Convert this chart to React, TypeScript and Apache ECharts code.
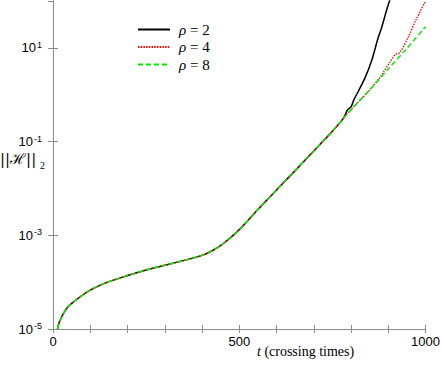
import React, { useEffect, useRef } from "react";
import * as echarts from "echarts";

// shared early evolution (all three runs coincide)
const T_COMMON = [12, 16, 20, 26, 35, 45, 55, 75, 100, 140, 200, 260, 300, 350, 400, 430, 460, 500, 550, 600, 650, 700, 750, 780];
const H_COMMON = [1.0e-5, 1.32e-5, 1.58e-5, 2.0e-5, 2.63e-5, 3.24e-5, 3.8e-5, 5.0e-5, 6.76e-5, 9.55e-5, 1.38e-4, 1.91e-4, 2.29e-4, 2.88e-4, 3.72e-4, 4.79e-4, 6.92e-4, 1.32e-3, 3.55e-3, 9.3e-3, 2.4e-2, 6.3e-2, 0.166, 0.316];

// late-time branches
const T_RHO2 = [790, 800, 808, 820, 838, 855, 873, 882, 895, 905];
const H_RHO2 = [0.468, 0.55, 0.794, 1.2, 2.34, 5.25, 16.6, 26.9, 61.7, 112];
const T_RHO4 = [800, 850, 880, 904, 918, 931, 953, 975, 1000];
const H_RHO4 = [0.479, 1.26, 2.51, 4.9, 7.08, 7.94, 16.6, 40.7, 100];
const T_RHO8 = [800, 850, 900, 950, 1000];
const H_RHO8 = [0.479, 1.26, 3.55, 9.77, 28.2];

const SERIES_NAMES = ["ρ = 2", "ρ = 4", "ρ = 8"];
const X_TICKS_LABELLED = [0, 500, 1000];
const Y_DECADE_OFFSET = 5; // axis value = log10(H) + 5

const toPts = (ts: number[], hs: number[]) => ts.map((t, i) => [t, Math.log10(hs[i]) + Y_DECADE_OFFSET]);

const SANS = '"Liberation Sans", Arial, sans-serif';
const SERIF = '"Liberation Serif", "Times New Roman", serif';
const FRAME = "#8c8c8c";

export default function App() {
  const ref = useRef<HTMLDivElement>(null);
  useEffect(() => {
    if (!ref.current) return;
    const chart = echarts.init(ref.current, null, { renderer: "svg" });
    const common = toPts(T_COMMON, H_COMMON);
    const axisLine = { show: true, lineStyle: { color: FRAME, width: 1 } };
    const xBase = {
      type: "value",
      min: 0,
      max: 1000,
      interval: 100,
      axisLine,
      splitLine: { show: false },
      axisTick: { inside: true, length: 4, lineStyle: { color: FRAME } },
    };
    const yBase = {
      type: "value",
      min: 0,
      max: 7,
      interval: 2,
      axisLine,
      splitLine: { show: false },
      axisTick: { inside: true, length: 5, lineStyle: { color: FRAME } },
    };
    chart.setOption({
      animation: false,
      grid: { left: 53, top: 1, width: 375, height: 328, containLabel: false },
      xAxis: [
        {
          ...xBase,
          position: "bottom",
          axisLabel: {
            formatter: (v: number) => (X_TICKS_LABELLED.includes(v) ? String(v) : ""),
            fontFamily: SANS,
            fontSize: 13,
            color: "#000",
            margin: 6,
          },
        },
        { ...xBase, position: "top", axisLabel: { show: false } },
      ],
      yAxis: [
        {
          ...yBase,
          position: "left",
          axisLabel: {
            showMaxLabel: false,
            margin: 11,
            formatter: (v: number) => (v % 2 === 0 ? `{b|10}{s|${v - Y_DECADE_OFFSET}}` : ""),
            rich: {
              b: { fontFamily: SANS, fontSize: 13, color: "#000" },
              s: { fontFamily: SANS, fontSize: 9, color: "#000", verticalAlign: "top", padding: [0, 0, 6, 1] },
            },
          },
        },
        { ...yBase, position: "right", axisLabel: { show: false } },
      ],
      legend: {
        orient: "vertical",
        left: 132,
        top: 17,
        itemWidth: 32,
        itemHeight: 14,
        itemGap: 2.5,
        data: SERIES_NAMES,
        itemStyle: { opacity: 0 },
        formatter: (name: string) => `{i|ρ}{n|${name.slice(1)}}`,
        textStyle: {
          fontFamily: SERIF,
          fontSize: 15,
          color: "#000",
          padding: [0, 0, 0, 4],
          rich: {
            i: { fontFamily: SERIF, fontStyle: "italic", fontSize: 15, color: "#000" },
            n: { fontFamily: SERIF, fontSize: 15, color: "#000" },
          },
        },
      },
      series: [
        {
          name: SERIES_NAMES[0],
          type: "line",
          symbol: "none",
          smooth: 0.3,
          data: [...common, ...toPts(T_RHO2, H_RHO2)],
          lineStyle: { color: "#000", width: 1.5 },
          itemStyle: { color: "#000" },
          z: 2,
        },
        {
          name: SERIES_NAMES[1],
          type: "line",
          symbol: "none",
          smooth: 0.3,
          data: [...common, ...toPts(T_RHO4, H_RHO4)],
          lineStyle: { color: "#ff0000", width: 1.3, type: [1.5, 1.2] },
          itemStyle: { color: "#ff0000" },
          z: 3,
        },
        {
          name: SERIES_NAMES[2],
          type: "line",
          symbol: "none",
          smooth: 0.3,
          data: [...common, ...toPts(T_RHO8, H_RHO8)],
          lineStyle: { color: "#00ee00", width: 1.5, type: [5, 3] },
          itemStyle: { color: "#00ee00" },
          z: 4,
        },
      ],
      graphic: [
        {
          type: "text",
          left: 0,
          top: 151,
          style: { text: "||ℋ||", font: '15px "DejaVu Serif", serif', fill: "#000" },
        },
        {
          type: "text",
          left: 40,
          top: 160,
          style: { text: "2", font: `10px ${SERIF}`, fill: "#000" },
        },
        {
          type: "text",
          left: 257,
          top: 344,
          style: {
            text: "{i|t}{n| (crossing times)}",
            rich: {
              i: { fontFamily: SERIF, fontStyle: "italic", fontSize: 14, color: "#000" },
              n: { fontFamily: SERIF, fontSize: 14, color: "#000" },
            },
          },
        },
      ],
    });
    return () => chart.dispose();
  }, []);
  return <div ref={ref} style={{ position: "absolute", left: 0, top: 0, width: 443, height: 367 }} />;
}
